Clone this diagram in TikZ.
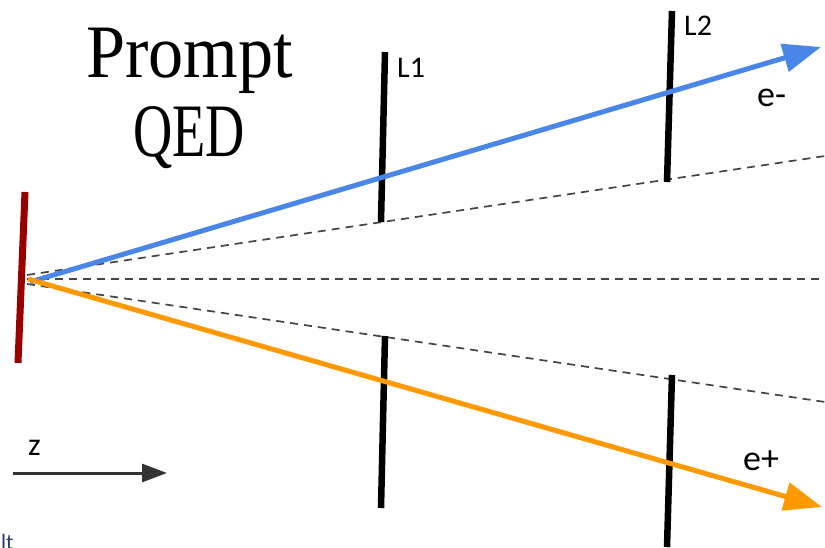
\documentclass[tikz,border=0pt]{standalone}
\usepackage{graphicx}
\usepackage{fontspec}
\setmainfont{Liberation Serif}
\newfontfamily\lblfont{Carlito}
\usetikzlibrary{arrows.meta}
\definecolor{beamblue}{RGB}{74,134,232}
\definecolor{beamorange}{RGB}{255,153,0}
\definecolor{targetred}{RGB}{153,0,0}
\definecolor{dashgrey}{RGB}{68,68,68}
\definecolor{axisgrey}{RGB}{51,51,51}
\definecolor{navyfrag}{RGB}{43,58,103}
\begin{document}
\begin{tikzpicture}[x=1pt,y=-1pt,
  dashline/.style={dashgrey, line width=1.7pt, dash pattern=on 8pt off 6pt},
  layerbar/.style={black, line width=6.5pt},
  beam/.style={line width=5pt, -{Triangle[length=38pt,width=28pt]}},
  lbl/.style={inner sep=0pt, anchor=base west, font=\lblfont\fontsize{30}{36}\selectfont},
  elbl/.style={inner sep=0pt, anchor=base west, font=\lblfont\fontsize{36}{40}\selectfont},
  titletext/.style={inner sep=0pt, anchor=base, font=\fontsize{75.5}{80}\selectfont}]
\useasboundingbox (0,0) rectangle (825,548);

% coordinates
\coordinate (tgtTop) at (25,192);
\coordinate (tgtBot) at (18,363);
\coordinate (dUs) at (27,275);
\coordinate (dUe) at (825,156);
\coordinate (dMs) at (27,279);
\coordinate (dMe) at (825,279);
\coordinate (dLs) at (27,284);
\coordinate (dLe) at (825,402);
\coordinate (bS) at (30,282);
\coordinate (bE) at (821,47);
\coordinate (oS) at (28,279);
\coordinate (oE) at (822,507);
\coordinate (zS) at (13,473);
\coordinate (zE) at (167,473);

% target
\draw[targetred, line width=7pt] (tgtTop) -- (tgtBot);

% dashed guide lines
\draw[dashline] (dUs) -- (dUe);
\draw[dashline] (dMs) -- (dMe);
\draw[dashline] (dLs) -- (dLe);

% layers
\draw[layerbar] (385,52) coordinate (l1a) -- (381,222) coordinate (l1b);
\draw[layerbar] (385,336) coordinate (l1c) -- (381,508) coordinate (l1d);
\draw[layerbar] (672,11) coordinate (l2a) -- (667,182) coordinate (l2b);
\draw[layerbar] (672,375) coordinate (l2c) -- (667,547) coordinate (l2d);

% beams
\draw[beam, beamblue] (bS) -- (bE);
\draw[beam, beamorange] (oS) -- (oE);

% z axis
\draw[axisgrey, line width=3pt, -{Triangle[length=25pt,width=18pt]}] (zS) -- (zE);

% labels
\node[lbl] (L1) at (397,78) {L1};
\node[lbl] (L2) at (684,36) {L2};
\node[elbl] (em) at (757,107) {e-};
\node[elbl] (ep) at (743,470) {e+};
\node[inner sep=0pt, anchor=base west, font=\lblfont\fontsize{32}{36}\selectfont] (zl) at (28,455) {z};
\node[inner sep=0pt, anchor=base west, text=navyfrag, font=\lblfont\fontsize{22}{24}\selectfont] (frag) at (1,549) {lt};

% title
\node[titletext] (prompt) at (189.5,78) {\scalebox{0.93}[1]{Prompt}};
\node[titletext] (qed) at (189,157) {\scalebox{0.72}[1]{QED}};
\end{tikzpicture}
\end{document}
